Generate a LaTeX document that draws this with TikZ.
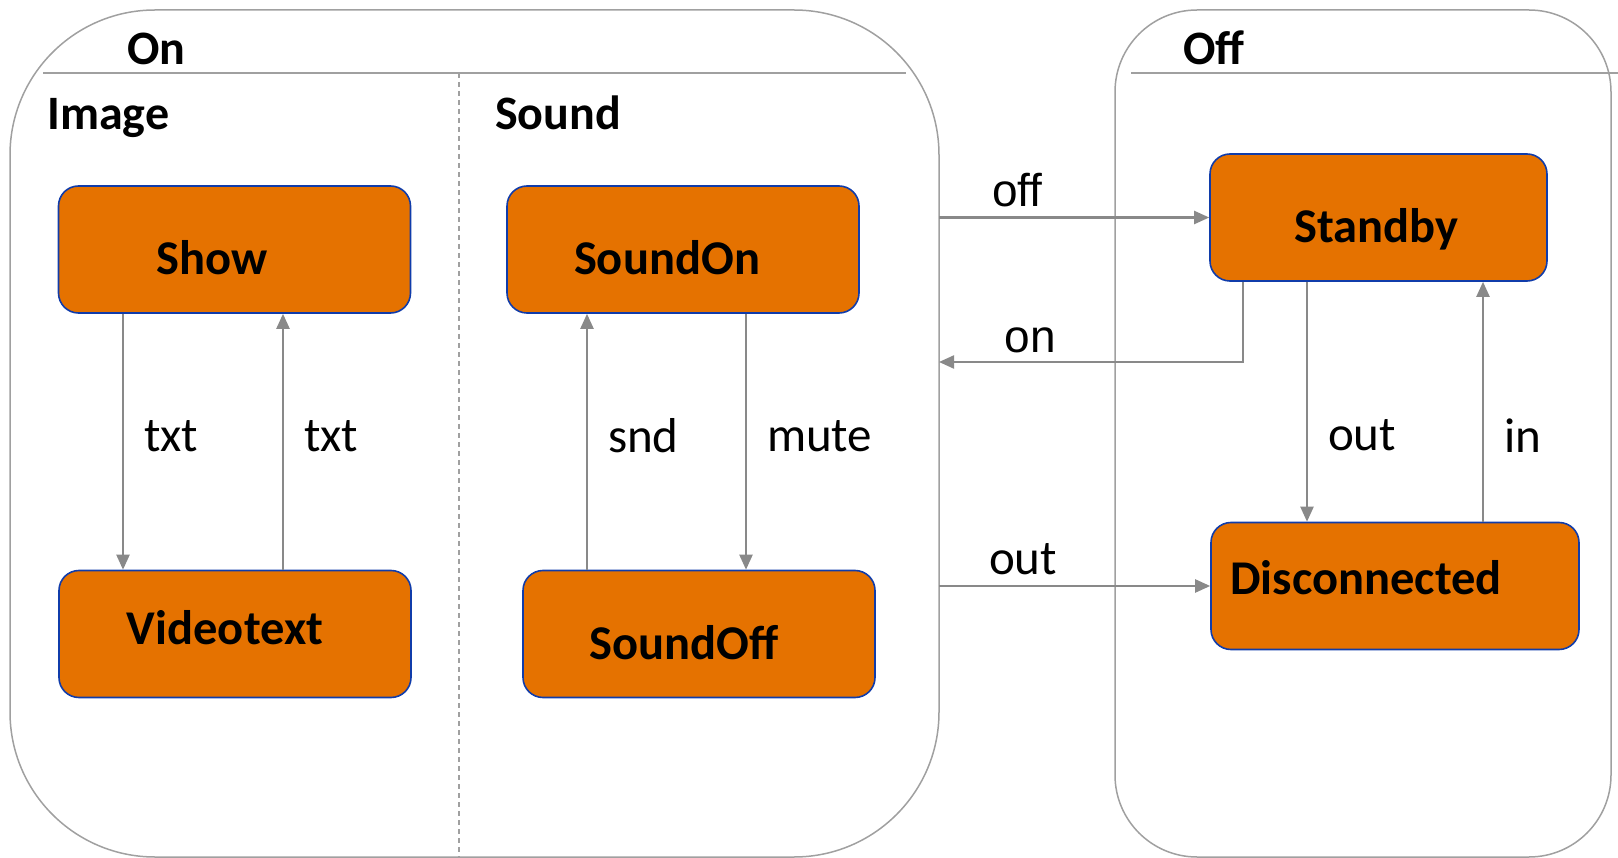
\documentclass[tikz,border=0pt]{standalone}
\usepackage{fontspec}
\setmainfont{Carlito}
\newfontfamily\arialfont{Liberation Sans}
\usetikzlibrary{arrows.meta}
\definecolor{stateorange}{RGB}{229,114,0}
\definecolor{stateblue}{RGB}{16,60,170}
\definecolor{linegray}{RGB}{137,137,137}
\definecolor{boxgray}{RGB}{160,160,160}

\begin{document}
\begin{tikzpicture}[y=-1pt,x=1pt]
    \tikzset{
        state/.style={rectangle,rounded corners=20pt,draw=stateblue,line width=1.6pt,fill=stateorange,
            minimum width=352pt,minimum height=127pt,inner sep=0pt},
        statetext/.style={font=\fontsize{48.5}{54}\selectfont\bfseries,inner sep=0pt},
        region/.style={draw=boxgray,line width=1.5pt},
        heading/.style={font=\fontsize{48}{54}\selectfont\bfseries,inner sep=0pt,anchor=base west},
        trans/.style={draw=linegray,line width=2.2pt,-{Triangle[length=15pt,width=13pt]}},
        lbl/.style={font=\fontsize{49}{56}\selectfont,inner sep=0pt,right=20pt,yshift=6pt},
        hlbl/.style={font=\fontsize{49}{56}\selectfont,inner sep=0pt,above=10pt},
        lblarial/.style={font=\fontsize{46}{52}\selectfont\arialfont,inner sep=0pt}
    }
    \useasboundingbox (0,0) rectangle (1618,858);

    % composite states
    \draw[region,rounded corners=145pt] (10,10) rectangle (939,857);
    \draw[region,rounded corners=82pt] (1115,10) rectangle (1611,857);
    \draw[region] (43,73) -- (906,73);
    \draw[region] (1131,73) -- (1618,73);
    \draw[region,dash pattern=on 5pt off 4pt] (459,73) -- (459,857);

    \node[heading] (ontitle) at (127,65) {On};
    \node[heading] (offtitle) at (1183,65) {Off};
    \node[heading] (imagetitle) at (47,130) {Image};
    \node[heading] (soundtitle) at (495,130) {Sound};

    % states
    \node[state,label={[statetext,xshift=-22pt,yshift=-8pt]center:Show}] (show) at (234.5,249.5) {};
    \node[state,label={[statetext,xshift=-10pt,yshift=6pt]center:Videotext}] (videotext) at (235,634) {};
    \node[state,label={[statetext,xshift=-16pt,yshift=-8pt]center:SoundOn}] (soundon) at (683,249.5) {};
    \node[state,label={[statetext,xshift=-15pt,yshift=-9pt]center:SoundOff}] (soundoff) at (699,634) {};
    \node[state,minimum width=337pt,label={[statetext,xshift=-2pt,yshift=-12pt]center:Standby}] (standby) at (1378.5,217.5) {};
    \node[state,minimum width=368pt,label={[statetext,anchor=west,xshift=20pt,yshift=8pt]west:Disconnected}] (disc) at (1395,586) {};

    \coordinate (onedge) at (939,0);
    \coordinate (x1) at (123,0);
    \coordinate (x2) at (283,0);
    \coordinate (x3) at (587,0);
    \coordinate (x4) at (746,0);
    \coordinate (x5) at (1307,0);
    \coordinate (x6) at (1483,0);
    \coordinate (onx) at (1243,362);
    \coordinate (onin) at (939,362);

    \draw[trans] (show.south -| x1) -- node[lbl] {txt} (videotext.north -| x1);
    \draw[trans] (videotext.north -| x2) -- node[lbl] {txt} (show.south -| x2);
    \draw[trans] (soundoff.north -| x3) -- node[lbl] {snd} (soundon.south -| x3);
    \draw[trans] (soundon.south -| x4) -- node[lbl] {mute} (soundoff.north -| x4);
    \draw[trans] (standby.south -| x5) -- node[lbl,pos=0.666] {out} (disc.north -| x5);
    \draw[trans] (disc.north -| x6) -- node[lbl,pos=0.334] {in} (standby.south -| x6);

    \draw[trans] (onedge |- standby) -- node[lblarial,above=9pt,pos=0.29] {off} (standby);
    \draw[trans] (standby.south -| onx) |- node[lblarial,above=8pt,pos=0.85] {on} (onin);
    \draw[trans] (onedge |- disc) -- node[hlbl,pos=0.31] {out} (disc);
\end{tikzpicture}
\end{document}
